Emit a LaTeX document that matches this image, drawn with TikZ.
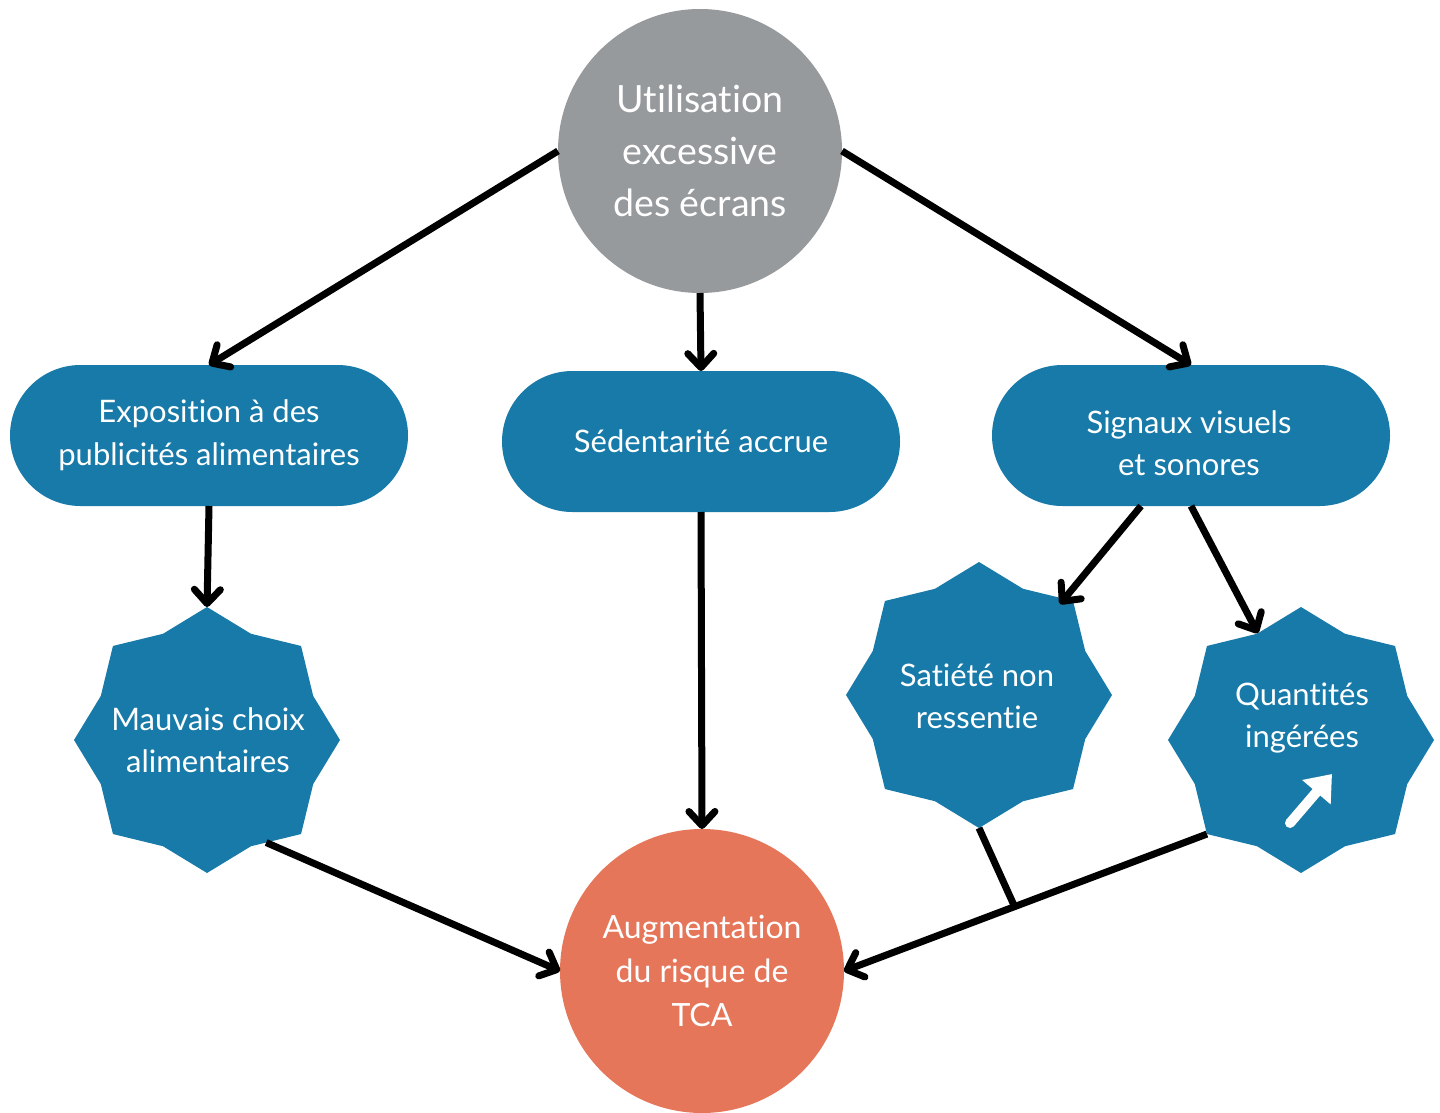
\documentclass[tikz,border=0pt]{standalone}
\usepackage{fontspec}
\setmainfont{Lato}[Ligatures=NoCommon]
\usetikzlibrary{shapes.geometric,shapes.misc,arrows.meta,calc}
\definecolor{cblue}{RGB}{23,122,168}
\definecolor{cgray}{RGB}{151,154,157}
\definecolor{corange}{RGB}{230,118,90}
\begin{document}
\begin{tikzpicture}[x=1pt,y=-1pt,
  pill/.style={rounded rectangle, fill=cblue, text=white, minimum width=398pt,
    minimum height=141pt, inner sep=0pt, outer sep=0pt, align=center,
    font=\fontsize{31}{43}\selectfont},
  starbox/.style={star, star points=8, star point ratio=1.157, fill=cblue,
    minimum size=266pt, inner sep=0pt, outer sep=0pt},
  txt/.style={text=white, align=center, inner sep=0pt, font=\fontsize{31}{42}\selectfont},
  bigcirc/.style={circle, minimum size=284pt, inner sep=0pt, outer sep=0pt,
    text=white, align=center},
  link/.style={line width=7pt, -{Straight Barb[length=14pt,width=26pt,round]}},
  plain/.style={line width=7pt}
]
\useasboundingbox (0,0) rectangle (1440,1113);

\node[bigcirc, fill=cgray, font=\fontsize{37.5}{52}\selectfont] (top) at (700,151)
  {Utilisation\\excessive\\des écrans};
\node[bigcirc, fill=corange, font=\fontsize{32}{44}\selectfont] (bc) at (702,971)
  {Augmentation\\du risque de\\TCA};

\node[pill] (lp) at (209,435.5) {Exposition à des\\publicités alimentaires};
\node[pill] (mp) at (701,441.5) {Sédentarité accrue};
\node[pill] (rp) at (1191,435.5) {};
\node[txt] (rpt) at (1189,443) {Signaux visuels\\et sonores};

\node[starbox] (ls) at (207,740) {};
\node[txt] (lst) at (208,740) {Mauvais choix\\alimentaires};
\node[starbox] (sat) at (979,695) {};
\node[txt] (satt) at (977,696) {Satiété non\\ressentie};
\node[starbox] (qt) at (1301,740) {};
\node[txt] (qtt) at (1302,718) {Quantités\\ingérées};
\draw[white, line width=10pt, line cap=round, -{Triangle[length=24pt,width=36pt]}]
  ($(qt)+(-11,83)$) -- ($(qt)+(31,34)$);

\draw[link] (top.west) -- (lp.north);
\draw[link] (top.south) -- (mp.north);
\draw[link] (top.east) -- (rp.north);
\draw[link] (lp.south) -- (ls.north);
\draw[link] (mp.south) -- (bc.north);
\draw[link] ([xshift=-50pt]rp.south) -- ($(sat)+(81,-91)$);
\draw[link] (rp.south) -- (qt.112.5);
\draw[link] (ls.-60) -- (bc.west);
\draw[link] (qt.-135) -- (bc.east);
\coordinate (j) at ($(qt.-135)!0.53!(bc.east)$);
\draw[plain] (sat.south) -- (j);
\end{tikzpicture}
\end{document}
